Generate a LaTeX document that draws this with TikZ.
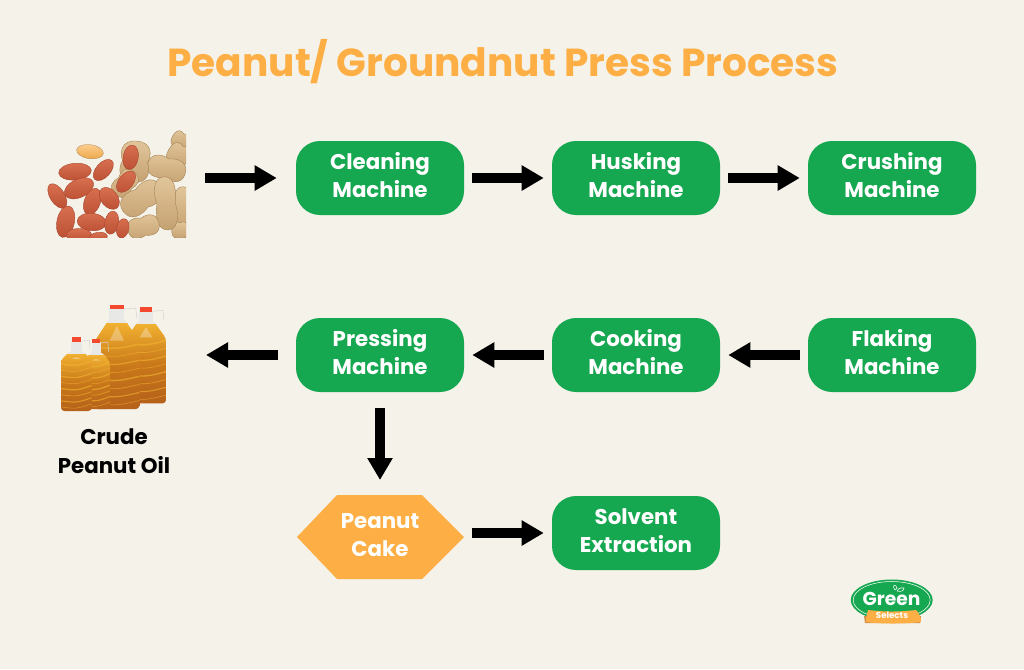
\documentclass[tikz,border=0pt]{standalone}
\usepackage{fontspec}
\setmainfont{Poppins}[BoldFont={Poppins Bold}]
\usetikzlibrary{arrows.meta}
\definecolor{bgc}{HTML}{F5F2E9}
\definecolor{gr}{HTML}{16A751}
\definecolor{orng}{HTML}{FDAF45}
\definecolor{kernelt}{HTML}{D87050}
\definecolor{kernelb}{HTML}{BC5034}
\definecolor{kerneld}{HTML}{A8452E}
\definecolor{shellt}{HTML}{E2C79C}
\definecolor{shellb}{HTML}{C4A070}
\definecolor{shelld}{HTML}{A58353}
\definecolor{oilc}{HTML}{C9781A}
\definecolor{oild}{HTML}{B5611A}
\definecolor{oill}{HTML}{F0B030}
\definecolor{capc}{HTML}{F2492F}
\definecolor{neckc}{HTML}{E8E8E6}
\tikzset{
  x=0.75pt,y=-0.75pt,
  machine/.style={fill=gr,rounded corners=18pt,minimum width=126pt,minimum height=55.5pt,inner sep=0pt,text=white,font=\boxfont},
  cakebox/.style={minimum width=126pt,minimum height=55.5pt,inner sep=0pt,text=white,align=center,font=\boxfont},
  blockarrow/.style={line width=7.5pt,-{Triangle[length=16.5pt,width=18pt,sep=0pt]},black},
  gap/.style={shorten <=6pt,shorten >=6pt},
  imgbox/.style={minimum width=105pt,minimum height=80pt,inner sep=0pt}
}
\newcommand{\boxfont}{\fontsize{16}{21.4}\selectfont\bfseries}
\newcommand{\twolines}[2]{\begin{tabular}{@{}c@{}}#1\\#2\end{tabular}}
\newcommand{\kernelnut}[5]{%
  \shadedraw[top color=kernelt,bottom color=kernelb,draw=kerneld,line width=.3pt,shift={(30+#1/3,120+#2/3)},rotate=#5] (0,0) ellipse [x radius=#3/2.75,y radius=#4/2.75];}
\newcommand{\shellnut}[5]{%
  \shadedraw[top color=shellt,bottom color=shellb,draw=shelld,line width=.3pt,shift={(30+#1/3,120+#2/3)},rotate=#5,xscale=#3/3,yscale=#4/3]
   (-1,0) .. controls (-1,-1.1) and (-.35,-1.1) .. (0,-.85) .. controls (.35,-1.1) and (1,-1.1) .. (1,0) .. controls (1,1.1) and (.35,1.1) .. (0,.85) .. controls (-.35,1.1) and (-1,1.1) .. (-1,0) -- cycle;}
% bottle: left, right, cap top, neck base, shoulder, bottom (reference crop coordinates)
\newcommand{\bottle}[6]{%
  \pgfmathsetmacro{\bl}{40+#1/3}\pgfmathsetmacro{\br}{40+#2/3}
  \pgfmathsetmacro{\bt}{295+#3/3}\pgfmathsetmacro{\bn}{295+#4/3}
  \pgfmathsetmacro{\bs}{295+#5/3}\pgfmathsetmacro{\bb}{295+#6/3}
  \pgfmathsetmacro{\bm}{(\bl+\br)/2}\pgfmathsetmacro{\bw}{(\br-\bl)}
  \draw[neckc!80!gray,line width=.4pt] (\bm+.16*\bw,\bt+4) -- (\bm+.42*\bw,\bt+3) -- (\bm+.45*\bw,\bn);
  \fill[neckc] (\bm-.17*\bw,\bt+3) rectangle (\bm+.17*\bw,\bn+1);
  \fill[capc] (\bm-.15*\bw,\bt) rectangle (\bm+.15*\bw,\bt+4.3);
  \begin{scope}
    \clip[rounded corners=2.5pt] (\bm-.17*\bw,\bn) -- (\bm+.17*\bw,\bn) -- (\br,\bs) -- (\br,\bb) -- (\bl,\bb) -- (\bl,\bs) -- cycle;
    \fill[neckc] (\bl,\bn) rectangle (\br,\bn+5);
    \shade[top color=oill,bottom color=oild,middle color=oilc] (\bl,\bn+4) rectangle (\br,\bb);
    \fill[white,opacity=.3] (\bm,\bn+7) -- (\bm+.16*\bw,\bs-1) -- (\bm-.16*\bw,\bs-1) -- cycle;
    \foreach \k/\lw in {0.08/1.2,0.2/.5,0.32/.9,0.44/.4,0.56/1,0.68/.5,0.8/.8,0.92/.4}{
      \draw[oill,line width=\lw pt,opacity=.65] (\bl,\bs+\k*\bb-\k*\bs) .. controls (\bm,\bs+\k*\bb-\k*\bs+2) .. (\br,\bs+\k*\bb-\k*\bs-3);
    }
  \end{scope}}
\begin{document}
\begin{tikzpicture}
\useasboundingbox (0,0) rectangle (1024,669);
\fill[bgc] (0,0) rectangle (1024,669);

% title
\node[text=orng,font=\fontsize{29.3}{33}\selectfont\bfseries,inner sep=0pt] (title) at (503,62) {Peanut/ Groundnut Press Process};

% peanut picture
\begin{scope}
  \clip (46,130) rectangle (186,237);
  \shellnut{450}{60}{25}{25}{-30}
  \shellnut{445}{105}{33}{34}{-30}
  \shellnut{455}{265}{65}{26}{85}
  \shellnut{450}{330}{25}{25}{0}
  \shellnut{410}{145}{58}{34}{-15}
  \shellnut{315}{125}{62}{44}{85}
  \shellnut{285}{190}{44}{30}{50}
  \shellnut{335}{235}{68}{38}{35}
  \shellnut{408}{250}{80}{32}{-85}
  \shellnut{340}{320}{48}{31}{15}
  \kernelnut{302}{112}{34}{21}{80}
  \kernelnut{288}{185}{34}{20}{52}
  \shadedraw[top color=orng!60!white,bottom color=orng!80!shelld,draw=shelld,line width=.2pt,shift={(30+180/3,120+95/3)},rotate=-8] (0,0) ellipse [x radius=13.5,y radius=7];
  \kernelnut{135}{155}{45}{23}{5}
  \kernelnut{220}{150}{35}{20}{48}
  \kernelnut{147}{205}{43}{25}{25}
  \kernelnut{82}{228}{38}{20}{-58}
  \kernelnut{187}{245}{38}{22}{70}
  \kernelnut{238}{235}{34}{23}{-52}
  \kernelnut{107}{305}{44}{24}{78}
  \kernelnut{185}{306}{40}{24}{-5}
  \kernelnut{245}{308}{32}{19}{80}
  \kernelnut{278}{325}{27}{17}{78}
  \kernelnut{147}{345}{35}{18}{0}
  \kernelnut{205}{352}{25}{14}{8}
\end{scope}
\node[imgbox] (peanuts) at (116,178) {};

% oil picture
\bottle{258}{378}{37}{75}{130}{325}
\bottle{163}{298}{30}{72}{140}{342}
\bottle{128}{210}{132}{170}{200}{342}
\bottle{63}{155}{127}{165}{195}{348}
\coordinate (oilend) at (206,355);
\node[font=\boxfont,text=black,align=center,inner sep=0pt] (oil) at (114,451) {Crude\\Peanut Oil};

% machines
\node[machine] (clean) at (380,178) {\twolines{Cleaning}{Machine}};
\node[machine] (husk)  at (636,178) {\twolines{Husking}{Machine}};
\node[machine] (crush) at (892,178) {\twolines{Crushing}{Machine}};
\node[machine] (press) at (380,355) {\twolines{Pressing}{Machine}};
\node[machine] (cook)  at (636,355) {\twolines{Cooking}{Machine}};
\node[machine] (flake) at (892,355) {\twolines{Flaking}{Machine}};
\node[machine] (solv)  at (636,533) {\twolines{Solvent}{Extraction}};

% peanut cake
\fill[orng] (297,537) -- (337,495) -- (422,495) -- (464,537) -- (422,579) -- (337,579) -- cycle;
\node[cakebox] (cake) at (380,535) {Peanut\\Cake};

% connectors
\draw[blockarrow,shorten <=14.25pt,shorten >=14.25pt] (peanuts.east) -- (clean.west);
\draw[blockarrow,gap] (clean) -- (husk);
\draw[blockarrow,gap] (husk) -- (crush);
\draw[blockarrow,gap] (flake) -- (cook);
\draw[blockarrow,gap] (cook) -- (press);
\draw[blockarrow,shorten <=13.5pt] (press.west) -- (oilend);
\draw[blockarrow,shorten <=12pt,shorten >=12pt] (press.south) -- (380,496);
\draw[blockarrow,gap] (cake.east |- solv.west) -- (solv.west);

% logo
\fill[gr] (891.7,600) ellipse [x radius=41,y radius=20.5];
\draw[white,line width=.4pt] (891.7,600) ellipse [x radius=38.5,y radius=18.5];
\fill[brown!70!orng] (864,616) -- (921,616) -- (920,623) -- (865,623) -- cycle;
\fill[orng] (868,610) .. controls (885,612) and (900,612) .. (916,610) .. controls (919,612) and (921,618) .. (921,622) .. controls (905,624) and (880,624) .. (866,622) .. controls (866,618) and (867,613) .. (868,610) -- cycle;
\draw[white,line width=.4pt] (895,590) .. controls (892,586) and (894,584) .. (896,586) .. controls (898,587) and (897,590) .. (895,590);
\draw[white,line width=.4pt] (897,591) .. controls (899,587) and (902,588) .. (904,588) .. controls (904,591) and (901,592) .. (897,591);
\node[text=white,font=\fontsize{14}{14}\selectfont\bfseries,inner sep=0pt] (green) at (891.5,599) {Green};
\node[text=white,font=\fontsize{6.5}{7}\selectfont\bfseries,inner sep=0pt] (selects) at (892,615.5) {Selects};
\end{tikzpicture}
\end{document}
